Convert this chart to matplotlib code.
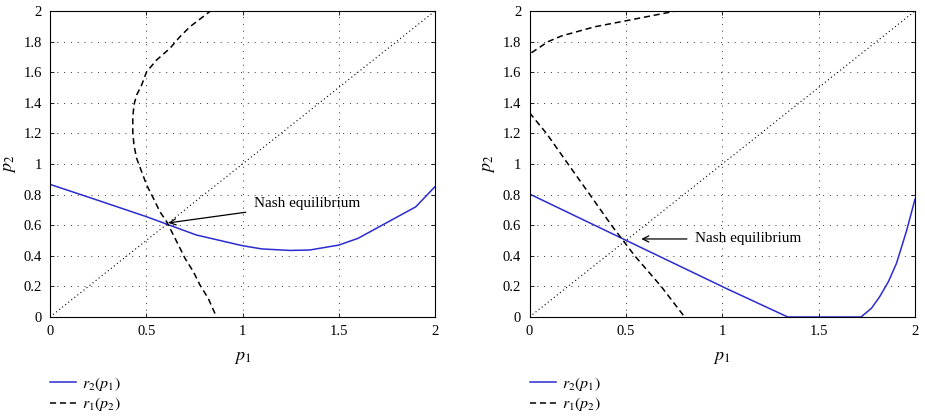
import matplotlib
matplotlib.use("Agg")
import matplotlib.pyplot as plt

plt.rcParams['font.family'] = ['Liberation Serif', 'DejaVu Serif']
plt.rcParams['mathtext.fontset'] = 'stix'

# ---- data (left panel) ----
left_r2_p1 = [0, 0.26, 0.5, 0.6, 0.76, 1.0, 1.1, 1.247, 1.35, 1.5, 1.6, 1.75, 1.9, 2.0]
left_r2_val = [0.867, 0.758, 0.656, 0.61, 0.536, 0.466, 0.445, 0.435, 0.438, 0.47, 0.514, 0.617, 0.72, 0.852]

left_r1_p2 = [2.006, 1.897, 1.832, 1.756, 1.680, 1.603, 1.516, 1.451, 1.386, 1.299, 1.211, 1.124,
              1.037, 0.95, 0.863, 0.776, 0.688, 0.623, 0.558, 0.471, 0.384, 0.296, 0.209, 0.122, 0.0]
left_r1_val = [0.840, 0.727, 0.675, 0.623, 0.554, 0.502, 0.476, 0.450, 0.436, 0.43, 0.43, 0.436,
               0.45, 0.476, 0.502, 0.537, 0.571, 0.606, 0.632, 0.667, 0.701, 0.745, 0.779, 0.822, 0.865]

# ---- data (right panel) ----
right_r2_p1 = [0, 1.03, 1.34, 1.72, 1.774, 1.817, 1.862, 1.904, 1.955, 2.0]
right_r2_val = [0.804, 0.181, 0.0, 0.0, 0.057, 0.133, 0.231, 0.351, 0.558, 0.77]

right_r1_low_p2 = [1.335, 1.2, 1.0, 0.8, 0.6, 0.4, 0.2, 0.0]
right_r1_low_val = [0.0, 0.088, 0.2, 0.313, 0.425, 0.546, 0.683, 0.805]
right_r1_up_val = [0.01, 0.097, 0.166, 0.339, 0.5, 0.76]
right_r1_up_p2 = [1.727, 1.80, 1.837, 1.897, 1.936, 2.0]

diag = [0, 2]

xticks = [0, 0.5, 1, 1.5, 2]
xticklabels = ["0", "0.5", "1", "1.5", "2"]
yticks = [0, 0.2, 0.4, 0.6, 0.8, 1.0, 1.2, 1.4, 1.6, 1.8, 2.0]
yticklabels = ["0", "0.2", "0.4", "0.6", "0.8", "1", "1.2", "1.4", "1.6", "1.8", "2"]

left_nash = (0.615, 0.615)
left_text = (1.06, 0.74)
right_nash = (0.58, 0.51)
right_text = (0.86, 0.51)

BLUE = '#2b2bd0'

fig = plt.figure(figsize=(9.25, 4.2), dpi=100)
W, H = 925, 420
ax1 = fig.add_axes([50 / W, (H - 317) / H, 385 / W, 306 / H])
ax2 = fig.add_axes([529.5 / W, (H - 317) / H, 385.5 / W, 306 / H])


def style(ax):
    ax.set_xlim(0, 2)
    ax.set_ylim(0, 2)
    ax.set_xticks(xticks)
    ax.set_xticklabels(xticklabels)
    ax.set_yticks(yticks)
    ax.set_yticklabels(yticklabels)
    ax.tick_params(direction='in', top=True, right=True, labelsize=10.5, length=3,
                   width=0.6, pad=6)
    ax.grid(True, color='#333333', linestyle=(0, (1, 6)), linewidth=0.7)
    for s in ax.spines.values():
        s.set_linewidth(0.8)
    ax.set_xlabel('$p_1$', fontsize=13, labelpad=8)
    ax.set_ylabel('$p_2$', fontsize=13, labelpad=4)
    ax.plot(diag, diag, color='black', linestyle=(0, (1, 2.5)), linewidth=0.8)


style(ax1)
style(ax2)

l1, = ax1.plot(left_r2_p1, left_r2_val, color=BLUE, linewidth=1.1, label='$r_2(p_1)$')
l2, = ax1.plot(left_r1_val, left_r1_p2, color='black', linestyle=(0, (4, 2.5)),
               linewidth=1.1, label='$r_1(p_2)$')
ax1.annotate('Nash equilibrium', xy=left_nash, xytext=left_text, fontsize=11,
             va='center', ha='left',
             arrowprops=dict(arrowstyle='->', color='black', lw=0.9,
                             shrinkA=4, shrinkB=0))

r1, = ax2.plot(right_r2_p1, right_r2_val, color=BLUE, linewidth=1.1, label='$r_2(p_1)$')
r2, = ax2.plot(right_r1_low_val, right_r1_low_p2, color='black', linestyle=(0, (4, 2.5)),
               linewidth=1.1, label='$r_1(p_2)$')
ax2.plot(right_r1_up_val, right_r1_up_p2, color='black', linestyle=(0, (4, 2.5)),
         linewidth=1.1)
ax2.annotate('Nash equilibrium', xy=right_nash, xytext=right_text, fontsize=11,
             va='center', ha='left',
             arrowprops=dict(arrowstyle='->', color='black', lw=0.9,
                             shrinkA=4, shrinkB=0))

for ax, hs, x0 in ((ax1, [l1, l2], 42), (ax2, [r1, r2], 522)):
    fig.legend(handles=hs, loc='upper left',
               bbox_to_anchor=(x0 / W, (H - 367) / H),
               frameon=False, fontsize=11.5, handlelength=1.6,
               handletextpad=0.4, labelspacing=0.15, borderpad=0)

fig.savefig('out.png', dpi=100)
